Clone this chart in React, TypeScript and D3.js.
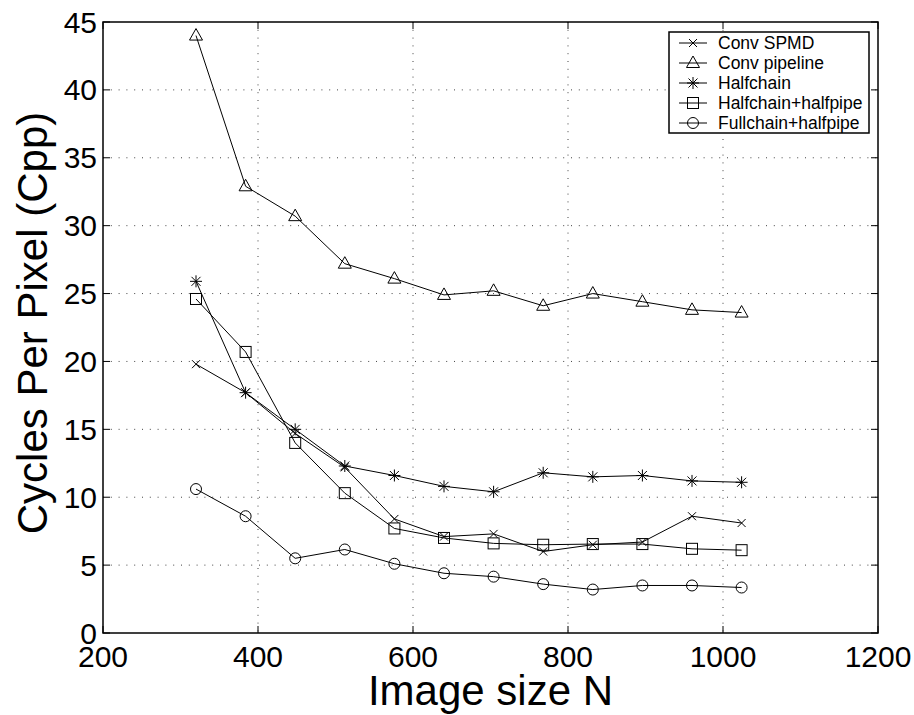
import * as d3 from "d3";

const sizes = [320, 384, 448, 512, 576, 640, 704, 768, 832, 896, 960, 1024];
const convSpmd = [19.8, 17.7, 14.7, 12.2, 8.4, 7.1, 7.3, 6.0, 6.5, 6.7, 8.6, 8.1];
const convPipeline = [44.0, 32.9, 30.7, 27.2, 26.1, 24.9, 25.2, 24.1, 25.0, 24.4, 23.8, 23.6];
const halfchain = [25.9, 17.7, 15.0, 12.3, 11.6, 10.8, 10.4, 11.8, 11.5, 11.6, 11.2, 11.1];
const halfchainHalfpipe = [24.6, 20.7, 14.0, 10.3, 7.7, 7.0, 6.6, 6.5, 6.55, 6.55, 6.2, 6.1];
const fullchainHalfpipe = [10.6, 8.6, 5.5, 6.15, 5.1, 4.4, 4.15, 3.6, 3.2, 3.5, 3.5, 3.35];

const xTicks = [200, 400, 600, 800, 1000, 1200];
const yTicks = [0, 5, 10, 15, 20, 25, 30, 35, 40, 45];

const seriesNames = ["Conv SPMD", "Conv pipeline", "Halfchain", "Halfchain+halfpipe", "Fullchain+halfpipe"];
const seriesValues = [convSpmd, convPipeline, halfchain, halfchainHalfpipe, fullchainHalfpipe];
const seriesMarkers = ["x", "triangle", "star", "square", "circle"];

const W = 914;
const H = 715;
const left = 103;
const right = 878;
const top = 22;
const bottom = 633;

const font = "'Liberation Sans', Arial, Helvetica, sans-serif";

function Marker({ kind, x, y }: { kind: string; x: number; y: number }) {
  const common = { fill: "none", stroke: "#000", strokeWidth: 1 };
  if (kind === "x") {
    return <path d={`M${x - 4},${y - 4}L${x + 4},${y + 4}M${x - 4},${y + 4}L${x + 4},${y - 4}`} {...common} />;
  }
  if (kind === "triangle") {
    return <path d={`M${x},${y - 7}L${x + 6.5},${y + 4.5}L${x - 6.5},${y + 4.5}Z`} {...common} />;
  }
  if (kind === "star") {
    return (
      <path
        d={`M${x - 6},${y}H${x + 6}M${x},${y - 6}V${y + 6}M${x - 4.5},${y - 4.5}L${x + 4.5},${y + 4.5}M${x - 4.5},${y + 4.5}L${x + 4.5},${y - 4.5}`}
        {...common}
      />
    );
  }
  if (kind === "square") {
    return <rect x={x - 5.5} y={y - 5.5} width={11} height={11} {...common} />;
  }
  return <circle cx={x} cy={y} r={5.5} {...common} />;
}

export default function App() {
  const x = d3.scaleLinear().domain([200, 1200]).range([left, right]);
  const y = d3.scaleLinear().domain([0, 45]).range([bottom, top]);

  const line = d3
    .line<number>()
    .x((_, i) => x(sizes[i]))
    .y((d) => y(d));

  const legX = 669;
  const legY = 32;
  const legW = 200;
  const legRow = 20;

  return (
    <svg width={W} height={H} style={{ position: "absolute", left: 0, top: 0, background: "#fff" }}>
      {/* grid */}
      {xTicks.slice(1, -1).map((t) => (
        <line key={"gx" + t} x1={x(t)} x2={x(t)} y1={top} y2={bottom} stroke="#444" strokeDasharray="1,6.8" />
      ))}
      {yTicks.slice(1, -1).map((t) => (
        <line key={"gy" + t} x1={left} x2={right} y1={y(t)} y2={y(t)} stroke="#444" strokeDasharray="1,6.8" />
      ))}

      {/* ticks, inward on all four sides */}
      {xTicks.map((t) => (
        <g key={"tx" + t} stroke="#000">
          <line x1={x(t)} x2={x(t)} y1={bottom} y2={bottom - 7} />
          <line x1={x(t)} x2={x(t)} y1={top} y2={top + 7} />
        </g>
      ))}
      {yTicks.map((t) => (
        <g key={"ty" + t} stroke="#000">
          <line x1={left} x2={left + 7} y1={y(t)} y2={y(t)} />
          <line x1={right} x2={right - 7} y1={y(t)} y2={y(t)} />
        </g>
      ))}
      <rect x={left} y={top} width={right - left} height={bottom - top} fill="none" stroke="#000" strokeWidth={1.5} />

      {/* tick labels */}
      {xTicks.map((t) => (
        <text key={"lx" + t} x={x(t)} y={bottom + 34} textAnchor="middle" fontFamily={font} fontSize={30}>
          {t}
        </text>
      ))}
      {yTicks.map((t) => (
        <text key={"ly" + t} x={left - 6} y={y(t) + 10.5} textAnchor="end" fontFamily={font} fontSize={30}>
          {t}
        </text>
      ))}

      {/* axis labels */}
      <text x={(left + right) / 2} y={705} textAnchor="middle" fontFamily={font} fontSize={42}>
        Image size N
      </text>
      <text
        transform={`translate(47,323) rotate(-90)`}
        textAnchor="middle"
        fontFamily={font}
        fontSize={42}
      >
        Cycles Per Pixel (Cpp)
      </text>

      {/* series */}
      {seriesValues.map((vals, si) => (
        <g key={"s" + si}>
          <path d={line(vals) || ""} fill="none" stroke="#000" strokeWidth={1} />
          {vals.map((v, i) => (
            <Marker key={i} kind={seriesMarkers[si]} x={x(sizes[i])} y={y(v)} />
          ))}
        </g>
      ))}

      {/* legend */}
      <rect x={legX} y={legY} width={legW} height={legRow * 5 + 1} fill="#fff" stroke="#000" strokeWidth={1.5} />
      {seriesNames.map((name, i) => {
        const cy = legY + 11 + i * legRow;
        return (
          <g key={"leg" + i}>
            <line x1={legX + 10} x2={legX + 38} y1={cy} y2={cy} stroke="#000" />
            <Marker kind={seriesMarkers[i]} x={legX + 24} y={cy} />
            <text x={legX + 49} y={cy + 6} fontFamily={font} fontSize={17.5}>
              {name}
            </text>
          </g>
        );
      })}
    </svg>
  );
}
